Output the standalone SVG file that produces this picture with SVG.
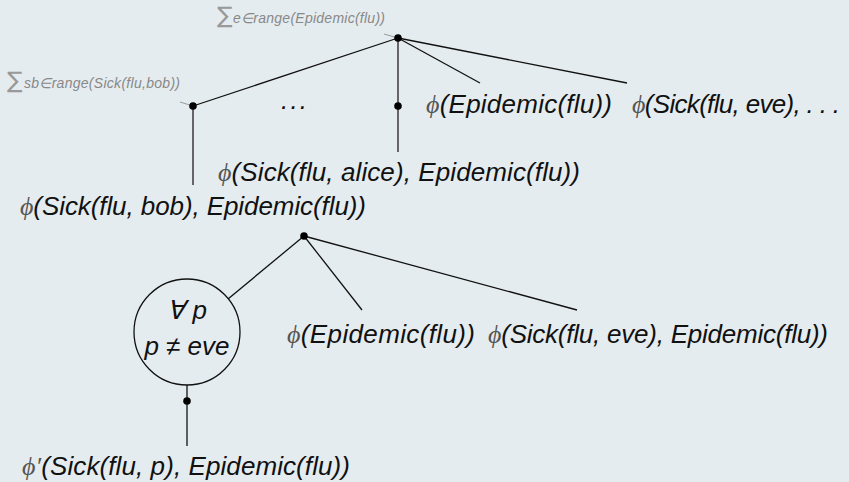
<svg xmlns="http://www.w3.org/2000/svg" width="849" height="482" viewBox="0 0 849 482">
<style>
.bg{fill:#e5ecef}
.t{font-family:"Liberation Sans",Arial,sans-serif;font-style:italic;font-size:26px;fill:#111}
.phi{font-family:"Liberation Serif","Times New Roman",serif;font-style:italic;fill:#555}
.sig{font-family:"DejaVu Sans",sans-serif;font-size:23px;fill:#999}
.sub{font-family:"Liberation Sans",Arial,sans-serif;font-style:italic;font-size:14px;fill:#888}
.e{stroke:#111;stroke-width:1.3;fill:none}
.v{stroke:#444;stroke-width:1.6;fill:none}
.tick{stroke:#999;stroke-width:1;fill:none}
.dot{fill:#000}
</style>
<rect class="bg" x="0" y="0" width="849" height="482"/>
<g id="connectors">
<line class="e" x1="398" y1="38" x2="193" y2="106"/>
<line class="v" x1="398" y1="38" x2="398" y2="152"/>
<line class="e" x1="398" y1="38" x2="480" y2="83"/>
<line class="e" x1="398" y1="38" x2="627" y2="83"/>
<line class="v" x1="193" y1="106" x2="193" y2="185"/>
<line class="tick" x1="384" y1="34" x2="398" y2="38"/>
<line class="tick" x1="180" y1="102" x2="193" y2="106"/>
<line class="e" x1="304" y1="236" x2="228" y2="299"/>
<line class="e" x1="304" y1="236" x2="362" y2="310"/>
<line class="e" x1="304" y1="236" x2="577" y2="310"/>
<line class="e" x1="187" y1="385" x2="187" y2="446"/>
</g>
<g id="sum-e">
<text class="sig" x="217" y="23">∑</text>
<text class="sub" x="233" y="23" textLength="152">e∈range(Epidemic(flu))</text>
<circle class="dot" cx="398" cy="38" r="3.8"/>
</g>
<g id="sum-sb">
<text class="sig" x="7" y="88">∑</text>
<text class="sub" x="24" y="88" textLength="156">sb∈range(Sick(flu,bob))</text>
<circle class="dot" cx="193" cy="106" r="3.8"/>
</g>
<g id="ellipsis">
<text class="t" x="281" y="109" textLength="26">. . .</text>
</g>
<g id="alice">
<circle class="dot" cx="398" cy="106" r="3.8"/>
<text class="t" x="218" y="181" textLength="362"><tspan class="phi">ϕ</tspan>(Sick(flu, alice), Epidemic(flu))</text>
</g>
<g id="epidemic1">
<text class="t" x="426" y="113" textLength="186"><tspan class="phi">ϕ</tspan>(Epidemic(flu))</text>
</g>
<g id="eve1">
<text class="t" x="632" y="113" textLength="208"><tspan class="phi">ϕ</tspan>(Sick(flu, eve), . . .</text>
</g>
<g id="bob">
<text class="t" x="20" y="215" textLength="346"><tspan class="phi">ϕ</tspan>(Sick(flu, bob), Epidemic(flu))</text>
<circle class="dot" cx="304" cy="236" r="3.8"/>
</g>
<g id="forall">
<circle class="e" cx="187" cy="332" r="53"/>
<text class="t" x="187" y="319" text-anchor="middle" font-size="24">∀ p</text>
<text class="t" x="187" y="355" text-anchor="middle" font-size="24">p ≠ eve</text>
<circle class="dot" cx="187" cy="401" r="3.8"/>
</g>
<g id="epidemic2">
<text class="t" x="287" y="343" textLength="188"><tspan class="phi">ϕ</tspan>(Epidemic(flu))</text>
</g>
<g id="eve2">
<text class="t" x="488" y="343" textLength="340"><tspan class="phi">ϕ</tspan>(Sick(flu, eve), Epidemic(flu))</text>
</g>
<g id="phiprime">
<text class="t" x="22" y="475" textLength="328"><tspan class="phi">ϕ′</tspan>(Sick(flu, p), Epidemic(flu))</text>
</g>
</svg>
